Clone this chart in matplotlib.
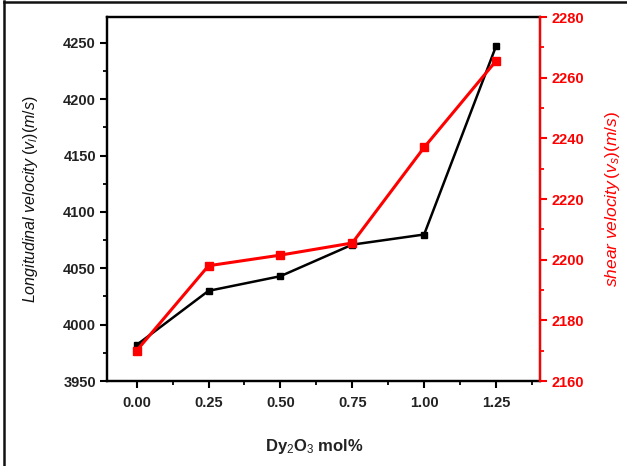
import matplotlib
matplotlib.use("Agg")
import matplotlib.pyplot as plt
from matplotlib.lines import Line2D
from matplotlib.ticker import MultipleLocator

plt.rcParams['font.family'] = ['Liberation Sans', 'DejaVu Sans']
plt.rcParams['mathtext.fontset'] = 'custom'
plt.rcParams['mathtext.rm'] = 'Liberation Sans'
plt.rcParams['mathtext.it'] = 'Liberation Sans:italic'
plt.rcParams['mathtext.bf'] = 'Liberation Sans:bold'

dy2o3_mol = [0.00, 0.25, 0.50, 0.75, 1.00, 1.25]
longitudinal_v = [3982, 4030, 4043, 4071, 4080, 4247]
shear_v = [2170, 2198, 2201.5, 2205.5, 2237, 2265.5]

fig = plt.figure(figsize=(6.27, 4.66), dpi=100)
ax = fig.add_axes([0.1707, 0.1824, 0.8612 - 0.1707, 0.9635 - 0.1824])
ax2 = ax.twinx()

ax.plot(dy2o3_mol, longitudinal_v, color='black', lw=1.8, marker='s',
        markersize=5, zorder=3)
ax2.plot(dy2o3_mol, shear_v, color='red', lw=2.2, marker='s',
         markersize=5.5, zorder=3)

ax.set_xlim(-0.103, 1.403)
ax.set_ylim(3950, 4273)
ax2.set_ylim(2160, 2280)

ax.xaxis.set_major_locator(MultipleLocator(0.25))
ax.xaxis.set_minor_locator(MultipleLocator(0.125))
ax.yaxis.set_major_locator(MultipleLocator(50))
ax.yaxis.set_minor_locator(MultipleLocator(25))
ax2.yaxis.set_major_locator(MultipleLocator(20))
ax2.yaxis.set_minor_locator(MultipleLocator(10))
ax.set_xticks([0, 0.25, 0.5, 0.75, 1.0, 1.25])
ax.set_xticklabels(['0.00', '0.25', '0.50', '0.75', '1.00', '1.25'])

for sp in ax.spines.values():
    sp.set_linewidth(1.6)
for name, sp in ax2.spines.items():
    sp.set_linewidth(1.6)
ax2.spines['right'].set_color('red')
ax2.spines['right'].set_zorder(5)

ax.tick_params(axis='both', which='major', direction='out', length=5,
               width=1.5, labelsize=10.5, pad=3)
ax.tick_params(axis='x', which='major', pad=6)
ax.tick_params(axis='both', which='minor', direction='out', length=3,
               width=1.3)
ax2.tick_params(axis='y', which='major', direction='out', length=5,
                width=1.5, colors='red', labelsize=10.5, pad=3)
ax2.tick_params(axis='y', which='minor', direction='out', length=3,
                width=1.3, colors='red')
for lbl in ax.get_xticklabels() + ax.get_yticklabels():
    lbl.set_fontweight('bold')
    lbl.set_color('#222222')
for lbl in ax2.get_yticklabels():
    lbl.set_fontweight('bold')

ax.set_xlabel(r'Dy$_2$O$_3$ mol%', fontsize=12, fontweight='bold',
              color='#222222')
ax.xaxis.set_label_coords(0.48, -0.155)
ax.set_ylabel(r'Longitudinal velocity $(v_l)(m/s)$', fontsize=11.5,
              style='italic', color='#111111')
ax.yaxis.set_label_coords(-0.155, 0.5)
ax2.set_ylabel(r'shear velocity$\,(v_s)(m/s)$', fontsize=12.5,
               style='italic', color='red')
ax2.yaxis.set_label_coords(1.145, 0.5)

# thin frame on the left and top of the canvas
fig.add_artist(Line2D([0.0065, 0.0065], [0, 0.997], transform=fig.transFigure,
                      color='#111111', lw=1.8))
fig.add_artist(Line2D([0.0065, 1.0], [0.9965, 0.9965], transform=fig.transFigure,
                      color='#111111', lw=1.8))

fig.savefig('out.png', dpi=100)
